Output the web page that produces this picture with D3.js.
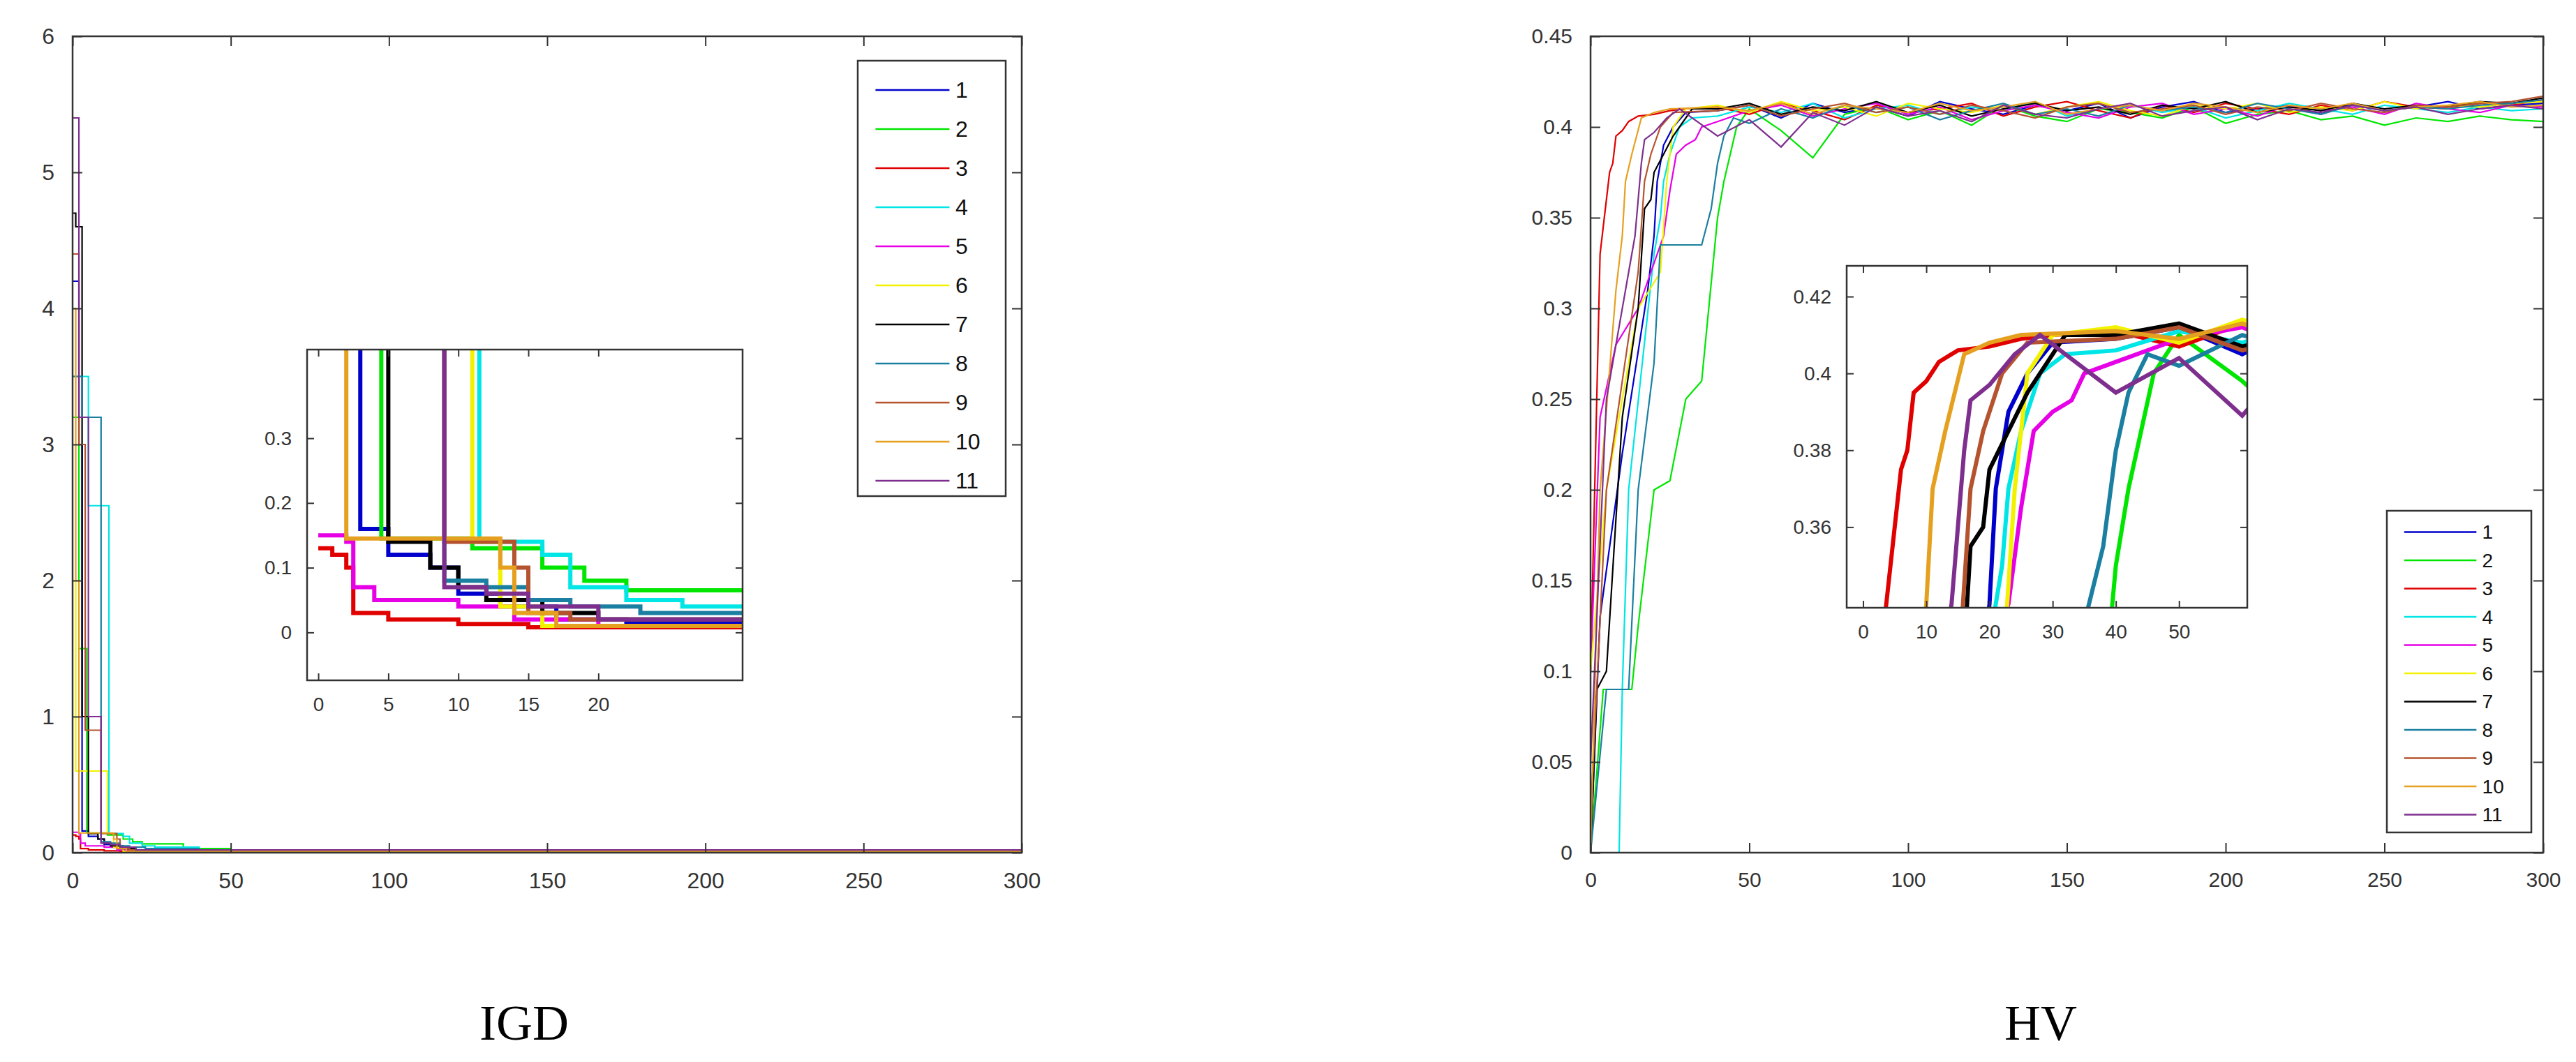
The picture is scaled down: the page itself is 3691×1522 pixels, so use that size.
<!DOCTYPE html>
<html><head><meta charset="utf-8">
<script src="https://cdn.jsdelivr.net/npm/d3@7"></script>
<style>body{margin:0;background:#fff}svg{display:block}</style>
</head><body>
<svg id="chart" width="3691" height="1522"></svg>
<script>
var names = ["1","2","3","4","5","6","7","8","9","10","11"]
var colors = ["#0000cc","#00e600","#e00000","#00e5e5","#e600e6","#f2f200","#000000","#1a7fa0","#b5532f","#e6a020","#7e2f8e"]

// IGD: [generation, value], step after
var igd = [
 [[0,4.2],[2,3.0],[3,0.16],[5,0.12],[8,0.1],[10,0.06],[13,0.04],[17,0.02],[22,0.015],[40,0.01],[300,0.01]],
 [[0,3.2],[2,1.5],[4.5,0.145],[11,0.13],[16,0.1],[19,0.08],[22,0.065],[35,0.03],[50,0.01],[300,0.01]],
 [[0,0.13],[1,0.12],[2,0.1],[2.5,0.03],[5,0.02],[10,0.013],[15,0.008],[300,0.005]],
 [[0,3.5],[5,2.55],[11.5,0.14],[16,0.12],[18,0.07],[22,0.05],[26,0.04],[40,0.01],[300,0.01]],
 [[0,0.15],[2,0.14],[2.5,0.07],[4,0.05],[8,0.05],[10,0.04],[14,0.02],[20,0.01],[300,0.01]],
 [[0,2.0],[1,0.6],[11,0.14],[13,0.04],[16,0.01],[300,0.005]],
 [[0,4.7],[1,4.6],[3,1.0],[5,0.14],[8,0.1],[10,0.07],[12,0.05],[16,0.03],[20,0.02],[300,0.01]],
 [[0,3.5],[3,3.2],[9,0.08],[12,0.07],[15,0.05],[18,0.04],[23,0.03],[40,0.01],[300,0.01]],
 [[0,4.4],[2,3.0],[4,0.9],[9,0.14],[14,0.1],[15,0.03],[18,0.02],[300,0.01]],
 [[0,4.0],[1,2.0],[2,0.145],[9,0.145],[13,0.1],[14,0.03],[17,0.01],[300,0.005]],
 [[0,5.4],[2,3.2],[5,1.0],[9,0.07],[12,0.06],[15,0.04],[20,0.02],[300,0.01]]
]

// HV: early [generation, value] points, then tail values every 10 generations from 40
var hvEarly = [
 [[0,0],[3,0.13],[10,0.22],[18,0.31],[20,0.34],[21,0.37],[23,0.39],[26,0.4],[30,0.408]],
 [[0,0],[4,0.09],[13,0.09],[15,0.125],[20,0.2],[25,0.205],[30,0.25],[35,0.26],[40,0.35],[42,0.37],[44,0.385],[46,0.4]],
 [[0,0.1],[3,0.33],[4,0.345],[5,0.36],[6,0.375],[7,0.38],[8,0.395],[10,0.398],[12,0.403],[15,0.406],[20,0.407],[25,0.409],[30,0.41]],
 [[0,0],[9,0],[10,0.09],[12,0.2],[20,0.33],[22,0.35],[23,0.37],[25,0.385],[28,0.4],[32,0.405]],
 [[0,0.1],[3,0.24],[8,0.28],[15,0.3],[23,0.34],[25,0.365],[27,0.385],[30,0.39],[33,0.393],[35,0.4]],
 [[0,0.1],[5,0.2],[15,0.3],[22,0.32],[24,0.37],[26,0.4],[30,0.41]],
 [[0,0],[2,0.09],[5,0.1],[10,0.24],[15,0.3],[17,0.355],[19,0.36],[20,0.375],[23,0.385],[26,0.395],[28,0.4],[32,0.41]],
 [[0,0],[5,0.09],[12,0.09],[15,0.2],[20,0.27],[22,0.335],[35,0.335],[38,0.355],[40,0.38],[42,0.395],[45,0.405]],
 [[0,0.02],[5,0.2],[15,0.32],[17,0.37],[19,0.385],[22,0.4],[26,0.408]],
 [[0,0],[3,0.2],[8,0.31],[10,0.34],[11,0.37],[13,0.385],[16,0.405],[20,0.408],[25,0.41]],
 [[0,0.05],[5,0.25],[14,0.34],[16,0.38],[17,0.393],[20,0.397],[24,0.405],[28,0.41]]
]
var tailGens = d3.range(40, 301, 10)
var hvTail = [
 [.409,.412,.405,.413,.408,.411,.406,.414,.410,.407,.412,.409,.413,.405,.411,.414,.408,.410,.412,.407,.413,.409,.411,.414,.410,.412,.413],
 [.405,.410,.398,.383,.407,.411,.404,.409,.401,.412,.406,.403,.410,.408,.405,.411,.402,.407,.409,.404,.406,.401,.405,.403,.406,.404,.403],
 [.411,.407,.413,.409,.404,.412,.408,.410,.413,.406,.411,.414,.409,.405,.412,.408,.413,.410,.407,.412,.409,.414,.411,.410,.413,.412,.415],
 [.406,.411,.408,.413,.405,.410,.412,.407,.411,.409,.414,.406,.410,.412,.408,.411,.405,.409,.413,.410,.407,.412,.410,.408,.411,.409,.410],
 [.403,.409,.412,.406,.410,.413,.407,.411,.404,.409,.412,.408,.405,.411,.413,.407,.410,.406,.412,.409,.411,.407,.413,.410,.408,.412,.411],
 [.412,.408,.414,.409,.411,.406,.413,.410,.408,.412,.407,.411,.414,.409,.406,.412,.410,.413,.408,.411,.409,.414,.410,.412,.411,.413,.414],
 [.410,.413,.407,.411,.409,.414,.408,.412,.406,.410,.413,.409,.411,.407,.412,.410,.414,.408,.411,.409,.413,.410,.412,.411,.414,.413,.416],
 [.407,.402,.410,.405,.412,.408,.411,.404,.409,.413,.407,.410,.406,.412,.409,.411,.408,.413,.410,.407,.412,.409,.411,.410,.412,.413,.415],
 [.409,.412,.406,.410,.413,.408,.411,.407,.412,.409,.405,.411,.413,.408,.410,.412,.407,.411,.409,.413,.410,.408,.412,.411,.413,.414,.417],
 [.411,.409,.413,.407,.412,.410,.408,.413,.409,.411,.414,.407,.410,.412,.409,.413,.411,.408,.412,.410,.413,.409,.411,.412,.414,.411,.412],
 [.395,.404,.389,.408,.401,.411,.406,.409,.403,.412,.407,.405,.410,.413,.406,.409,.411,.404,.410,.408,.412,.409,.411,.407,.410,.412,.410]
]
var hv = hvEarly.map(function(e, i){
  var last = e[e.length-1][0]
  var t = tailGens.map(function(g, j){ return [g, hvTail[i][j]] }).filter(function(p){ return p[0] > last })
  return e.concat(t)
})

var svg = d3.select("#chart")

function panel(o){
  var g = svg.append("g")
  var x = d3.scaleLinear().domain(o.xd).range([o.x0, o.x1])
  var y = d3.scaleLinear().domain(o.yd).range([o.y1, o.y0])
  var cid = "c" + Math.random().toString(36).slice(2)
  g.append("clipPath").attr("id", cid).append("rect")
    .attr("x", o.x0).attr("y", o.y0).attr("width", o.x1-o.x0).attr("height", o.y1-o.y0)
  g.append("rect").attr("x", o.x0).attr("y", o.y0).attr("width", o.x1-o.x0).attr("height", o.y1-o.y0)
    .attr("fill", "#fff")
  var line = d3.line().x(function(d){ return x(d[0]) }).y(function(d){ return y(d[1]) })
    .curve(o.step ? d3.curveStepAfter : d3.curveLinear)
  g.append("g").attr("clip-path", "url(#" + cid + ")").selectAll("path").data(o.data).join("path")
    .attr("d", line).attr("fill", "none").attr("stroke-width", o.lw)
    .attr("stroke", function(d, i){ return colors[i] })
  var ts = o.tick
  function style(a){
    a.select(".domain").remove()
    a.selectAll("line").attr("stroke", "#333").attr("stroke-width", 2)
    a.selectAll("text").attr("fill", "#333").style("font-family", "Liberation Sans, Arial").style("font-size", o.fs + "px")
  }
  g.append("g").attr("transform", "translate(0," + o.y1 + ")")
    .call(d3.axisBottom(x).tickValues(o.xt).tickSize(-ts).tickPadding(ts + 14).tickFormat(d3.format("d"))).call(style)
  g.append("g").attr("transform", "translate(0," + o.y0 + ")")
    .call(d3.axisTop(x).tickValues(o.xt).tickSize(-ts).tickFormat("")).call(style)
  g.append("g").attr("transform", "translate(" + o.x0 + ",0)")
    .call(d3.axisLeft(y).tickValues(o.yt).tickSize(-ts).tickPadding(ts + 12).tickFormat(o.yf)).call(style)
  g.append("g").attr("transform", "translate(" + o.x1 + ",0)")
    .call(d3.axisRight(y).tickValues(o.yt).tickSize(-ts).tickFormat("")).call(style)
  g.append("rect").attr("x", o.x0).attr("y", o.y0).attr("width", o.x1-o.x0).attr("height", o.y1-o.y0)
    .attr("fill", "none").attr("stroke", "#333").attr("stroke-width", 2.5)
}

function legend(lx, ly, w, h, step, fs){
  var g = svg.append("g")
  g.append("rect").attr("x", lx).attr("y", ly).attr("width", w).attr("height", h)
    .attr("fill", "#fff").attr("stroke", "#333").attr("stroke-width", 2.5)
  var row = g.selectAll("g").data(names).join("g")
    .attr("transform", function(d, i){ return "translate(" + lx + "," + (ly + step*0.75 + i*step) + ")" })
  row.append("line").attr("x1", w*0.12).attr("x2", w*0.62).attr("stroke-width", 2.5)
    .attr("stroke", function(d, i){ return colors[i] })
  row.append("text").attr("x", w*0.66).attr("dy", "0.35em").text(function(d){ return d })
    .style("font-family", "Liberation Sans, Arial").style("font-size", fs + "px").attr("fill", "#111")
}

var fmt2 = function(d){ return d === 0 ? "0" : d3.format(".2~f")(d) }

// IGD main
panel({x0:104, x1:1464, y0:52, y1:1222, xd:[0,300], yd:[0,6], xt:d3.range(0,301,50), yt:d3.range(0,7,1),
  yf:d3.format("d"), data:igd, step:true, lw:2.2, tick:14, fs:32})
legend(1229, 87, 212, 624, 56, 32)
// IGD inset
panel({x0:440, x1:1064, y0:501, y1:975, xd:[-0.8,30.3], yd:[-0.074,0.437], xt:[0,5,10,15,20], yt:[0,0.1,0.2,0.3],
  yf:fmt2, data:igd, step:true, lw:6, tick:10, fs:28})

// HV main
panel({x0:2279, x1:3644, y0:52, y1:1222, xd:[0,300], yd:[0,0.45], xt:d3.range(0,301,50), yt:d3.range(0,0.451,0.05),
  yf:fmt2, data:hv, step:false, lw:2.2, tick:14, fs:30})
// HV inset
panel({x0:2646, x1:3220, y0:381, y1:871, xd:[-2.6,60.8], yd:[0.339,0.428], xt:[0,10,20,30,40,50], yt:[0.36,0.38,0.4,0.42],
  yf:function(d){ return d3.format(".2~f")(d) }, data:hv, step:false, lw:6, tick:10, fs:28})
legend(3420, 732, 207, 461, 40.5, 28)

svg.append("text").attr("x", 751).attr("y", 1490).attr("text-anchor", "middle").text("IGD")
  .style("font-family", "Liberation Serif, Times New Roman").style("font-size", "72px")
svg.append("text").attr("x", 2924).attr("y", 1490).attr("text-anchor", "middle").text("HV")
  .style("font-family", "Liberation Serif, Times New Roman").style("font-size", "72px")
</script>
</body></html>
